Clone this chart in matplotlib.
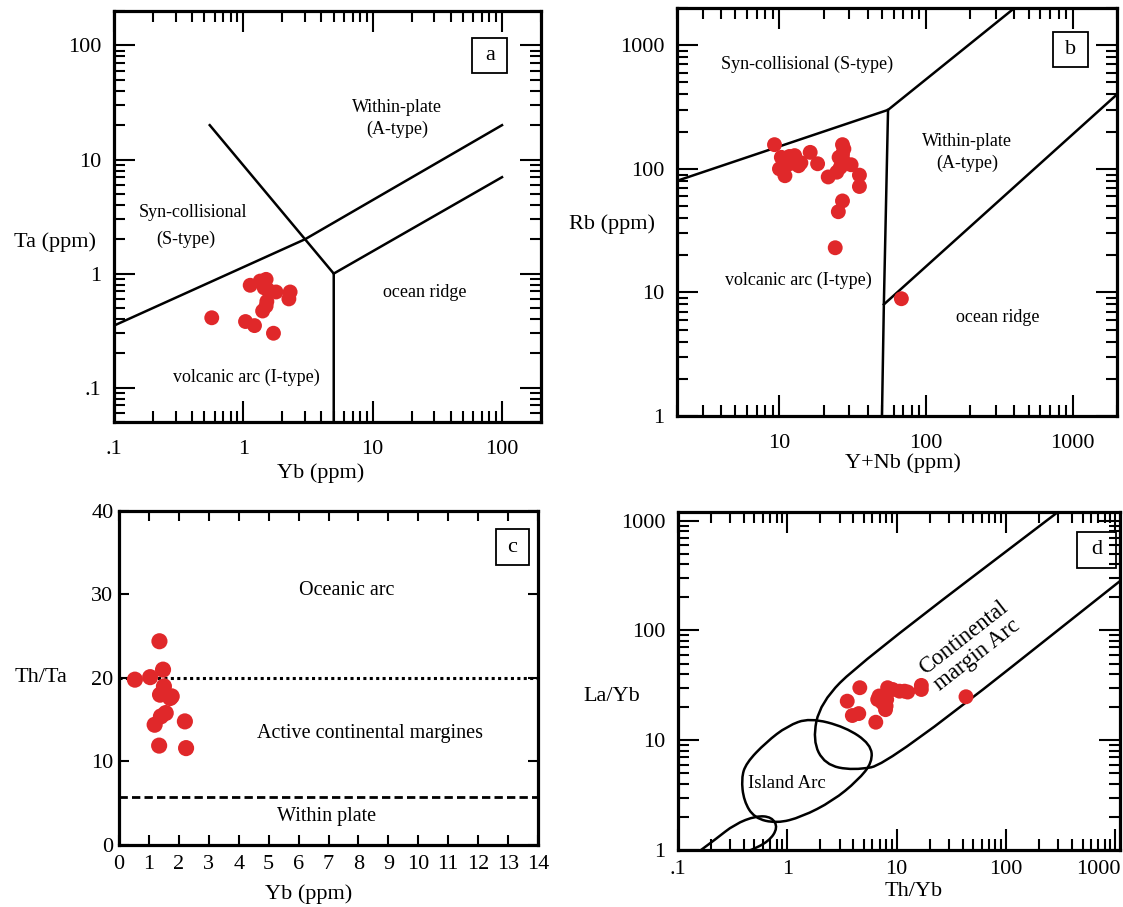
import numpy as np
import matplotlib
matplotlib.use('Agg')
import matplotlib.pyplot as plt
import matplotlib.transforms as mtransforms
from matplotlib.path import Path
from matplotlib.patches import PathPatch, Rectangle
from matplotlib.ticker import LogLocator, FuncFormatter, NullFormatter, MultipleLocator

plt.rcParams['font.family'] = ['Liberation Serif', 'DejaVu Serif']

RED = '#e0282a'

# (a) Ta vs Yb
yb_a = [0.57, 1.13, 1.04, 1.22, 1.71, 1.35, 1.50, 1.45, 1.60, 1.79, 1.52, 1.50, 1.41, 2.30, 2.25, 1.55]
ta_a = [0.41, 0.79, 0.38, 0.35, 0.30, 0.86, 0.89, 0.75, 0.70, 0.69, 0.57, 0.52, 0.47, 0.69, 0.60, 0.72]

# (b) Rb vs Y+Nb
ynb_b = [9.25, 10.3, 11.7, 12.7, 13.5, 10.0, 10.9, 11.7, 12.3, 14.0, 16.2, 18.2, 21.5, 24.6,
         26.9, 27.5, 26.9, 27.2, 26.0, 25.5, 30.8, 35.1, 35.1, 26.9, 25.2, 24.0, 67.8]
rb_b = [157, 124, 126, 128, 106, 100, 88, 110, 112, 112, 136, 110, 86, 94,
        157, 145, 131, 117, 103, 124, 108, 89, 72, 55, 45, 23, 8.9]

# (c) Th/Ta vs Yb
yb_c = [0.53, 1.04, 1.35, 1.47, 1.50, 1.37, 1.76, 1.71, 1.56, 1.40, 1.19, 2.20, 1.34, 2.24]
thta_c = [19.8, 20.1, 24.4, 21.0, 19.0, 18.0, 17.8, 17.6, 15.8, 15.4, 14.4, 14.8, 11.9, 11.6]

# (d) La/Yb vs Th/Yb
thyb_d = [3.53, 4.6, 3.93, 4.5, 6.44, 6.9, 6.7, 7.4, 8.0, 7.9, 8.1, 8.26, 9.2, 10.6, 11.8, 12.6, 16.8, 16.8, 43]
layb_d = [22.7, 30.1, 16.8, 17.5, 14.6, 25.3, 23.5, 21.9, 20.5, 19.0, 23.5, 30.1, 29.0, 28.0, 28.0, 27.5, 31.6, 29.0, 24.9]

# field boundaries (Pearce et al. 1984)
a_lines = [([0.1, 3, 100], [0.35, 2, 20]),
           ([0.55, 3, 5, 5], [20, 2, 1, 0.05]),
           ([5, 100], [1, 7])]
b_lines = [([2, 55, 400], [80, 300, 2000]),
           ([55, 51.5, 50], [300, 8, 1]),
           ([51.5, 2000], [8, 400])]

# outlines for the Th/Yb - La/Yb fields (control nodes)
cont_arc = [(450, 1640), (4.6, 50.8), (2.0, 22), (1.7, 10), (2.2, 6.0), (4.0, 5.3), (8.5, 6.06), (1500, 360)]
island_arc = [(1.6, 16), (3.4, 13.2), (5.8, 9.2), (6.0, 6.3), (4.4, 4.3), (2.6, 2.8), (1.35, 2.0),
              (0.8, 1.75), (0.5, 1.95), (0.4, 2.8), (0.38, 4.5), (0.42, 6.2), (0.64, 9.6), (1.0, 13.5)]
small_field = [(0.13, 0.85), (0.22, 1.25), (0.33, 1.72), (0.52, 2.05), (0.72, 2.0), (0.82, 1.6),
               (0.68, 1.2), (0.45, 0.98), (0.3, 0.85)]


def gm(p, q):
    return (np.sqrt(p[0] * q[0]), np.sqrt(p[1] * q[1]))


def open_curve(nodes):
    verts = [nodes[0], gm(nodes[0], nodes[1])]
    codes = [Path.MOVETO, Path.LINETO]
    for i in range(1, len(nodes) - 1):
        verts += [nodes[i], gm(nodes[i], nodes[i + 1])]
        codes += [Path.CURVE3, Path.CURVE3]
    verts.append(nodes[-1])
    codes.append(Path.LINETO)
    return Path(verts, codes)


def closed_curve(nodes):
    n = len(nodes)
    verts = [gm(nodes[-1], nodes[0])]
    codes = [Path.MOVETO]
    for i in range(n):
        verts += [nodes[i], gm(nodes[i], nodes[(i + 1) % n])]
        codes += [Path.CURVE3, Path.CURVE3]
    return Path(verts, codes)


def log_label(v, pos):
    return '.1' if np.isclose(v, 0.1) else f'{v:g}'


def style_log(ax, xpad=9):
    for axis in (ax.xaxis, ax.yaxis):
        axis.set_major_locator(LogLocator(base=10, numticks=12))
        axis.set_minor_locator(LogLocator(base=10, subs=np.arange(2, 10), numticks=12))
        axis.set_major_formatter(FuncFormatter(log_label))
        axis.set_minor_formatter(NullFormatter())
    ax.tick_params(which='both', direction='in', top=True, right=True, width=1.5, labelsize=16)
    ax.tick_params(which='major', length=15)
    ax.tick_params(which='minor', length=8)
    ax.tick_params(axis='y', which='major', pad=9)
    ax.tick_params(axis='x', which='major', pad=xpad)
    for s in ax.spines.values():
        s.set_linewidth(2.3)


def letter_box(ax, letter, cx, cy, w, h):
    ax.add_patch(Rectangle((cx - w / 2, cy - h / 2), w, h, transform=ax.transAxes,
                           fill=False, ec='black', lw=1.3, zorder=4))
    ax.text(cx, cy, letter, transform=ax.transAxes, ha='center', va='center', fontsize=16, zorder=5)


fig = plt.figure(figsize=(11.23, 9.07), dpi=100)
ax_a = fig.add_axes([0.1015, 0.5347, 0.3802, 0.4531])
ax_b = fig.add_axes([0.6028, 0.5413, 0.3918, 0.4498])
ax_c = fig.add_axes([0.1060, 0.0684, 0.3731, 0.3682])
ax_d = fig.add_axes([0.6037, 0.0628, 0.3936, 0.3727])

# --- a ---
ax_a.set_xscale('log')
ax_a.set_yscale('log')
ax_a.set_xlim(0.1, 200)
ax_a.set_ylim(0.05, 200)
style_log(ax_a, xpad=13)
for xs, ys in a_lines:
    ax_a.plot(xs, ys, color='black', lw=1.8, solid_joinstyle='miter')
ax_a.scatter(yb_a, ta_a, s=115, color=RED, edgecolors='none', zorder=3)
ax_a.text(15.4, 22.8, 'Within-plate\n(A-type)', ha='center', va='center', fontsize=13, linespacing=1.35)
ax_a.text(0.41, 3.4, 'Syn-collisional', ha='center', va='center', fontsize=13)
ax_a.text(0.36, 1.98, '(S-type)', ha='center', va='center', fontsize=13)
ax_a.text(25.4, 0.68, 'ocean ridge', ha='center', va='center', fontsize=13)
ax_a.text(1.06, 0.122, 'volcanic arc (I-type)', ha='center', va='center', fontsize=13)
ax_a.set_xlabel('Yb (ppm)', fontsize=16)
ax_a.set_ylabel('Ta (ppm)', fontsize=16, rotation=0, ha='center', va='center')
ax_a.xaxis.set_label_coords(0.485, -0.1)
ax_a.yaxis.set_label_coords(-0.138, 0.438)
letter_box(ax_a, 'a', 0.88, 0.893, 0.082, 0.085)

# --- b ---
ax_b.set_xscale('log')
ax_b.set_yscale('log')
ax_b.set_xlim(2, 2000)
ax_b.set_ylim(1, 2000)
style_log(ax_b, xpad=13)
for xs, ys in b_lines:
    ax_b.plot(xs, ys, color='black', lw=1.8, solid_joinstyle='miter')
ax_b.scatter(ynb_b, rb_b, s=115, color=RED, edgecolors='none', zorder=3)
ax_b.text(15.5, 706, 'Syn-collisional (S-type)', ha='center', va='center', fontsize=13)
ax_b.text(190, 136, 'Within-plate\n(A-type)', ha='center', va='center', fontsize=13, linespacing=1.35)
ax_b.text(13.5, 12.5, 'volcanic arc (I-type)', ha='center', va='center', fontsize=13)
ax_b.text(307, 6.3, 'ocean ridge', ha='center', va='center', fontsize=13)
ax_b.set_xlabel('Y+Nb (ppm)', fontsize=16)
ax_b.set_ylabel('Rb (ppm)', fontsize=16, rotation=0, ha='center', va='center')
ax_b.xaxis.set_label_coords(0.514, -0.092)
ax_b.yaxis.set_label_coords(-0.148, 0.47)
letter_box(ax_b, 'b', 0.895, 0.898, 0.08, 0.085)

# --- c ---
ax_c.set_xlim(0, 14)
ax_c.set_ylim(0, 40)
ax_c.xaxis.set_major_locator(MultipleLocator(1))
ax_c.yaxis.set_major_locator(MultipleLocator(10))
ax_c.tick_params(direction='in', top=True, right=True, length=7, width=1.5, labelsize=16)
ax_c.tick_params(axis='x', pad=7)
ax_c.tick_params(axis='y', pad=4)
for s in ax_c.spines.values():
    s.set_linewidth(2.3)
ax_c.axhline(20, color='black', lw=2.2, ls=(0, (1, 1.1)))
ax_c.axhline(5.7, color='black', lw=2.0, ls=(0, (3, 1.5)))
ax_c.scatter(yb_c, thta_c, s=135, color=RED, edgecolors='none', zorder=3)
ax_c.text(7.62, 30.5, 'Oceanic arc', ha='center', va='center', fontsize=14.5)
ax_c.text(8.37, 13.3, 'Active continental margines', ha='center', va='center', fontsize=14.5)
ax_c.text(6.95, 3.4, 'Within plate', ha='center', va='center', fontsize=14.5)
ax_c.set_xlabel('Yb (ppm)', fontsize=16)
ax_c.set_ylabel('Th/Ta', fontsize=16, rotation=0, ha='center', va='center')
ax_c.xaxis.set_label_coords(0.453, -0.118)
ax_c.yaxis.set_label_coords(-0.186, 0.5)
letter_box(ax_c, 'c', 0.939, 0.892, 0.079, 0.108)

# --- d ---
ax_d.set_xscale('log')
ax_d.set_yscale('log')
ax_d.set_xlim(0.1, 1100)
ax_d.set_ylim(1, 1200)
style_log(ax_d, xpad=7)
ax_d.xaxis.set_major_formatter(FuncFormatter(lambda v, p: '' if np.isclose(v, 1000) else log_label(v, p)))
lab_tr = mtransforms.blended_transform_factory(ax_d.transData, ax_d.transAxes)
ax_d.text(700, -0.028, '1000', transform=lab_tr, ha='center', va='top', fontsize=16)
for path in (open_curve(cont_arc), closed_curve(island_arc), open_curve(small_field)):
    ax_d.add_patch(PathPatch(path, fill=False, ec='black', lw=1.8))
ax_d.scatter(thyb_d, layb_d, s=115, color=RED, edgecolors='none', zorder=3)
ax_d.text(0.99, 4.07, 'Island Arc', ha='center', va='center', fontsize=13.5)
ax_d.text(46.9, 72, 'Continental\nmargin Arc', ha='center', va='center', fontsize=16.5,
          rotation=38, linespacing=1.05, rotation_mode='anchor')
ax_d.set_xlabel('Th/Yb', fontsize=16)
ax_d.set_ylabel('La/Yb', fontsize=16, rotation=0, ha='center', va='center')
ax_d.xaxis.set_label_coords(0.534, -0.095)
ax_d.yaxis.set_label_coords(-0.149, 0.453)
letter_box(ax_d, 'd', 0.947, 0.888, 0.088, 0.107)

fig.savefig('out.png', dpi=100)
